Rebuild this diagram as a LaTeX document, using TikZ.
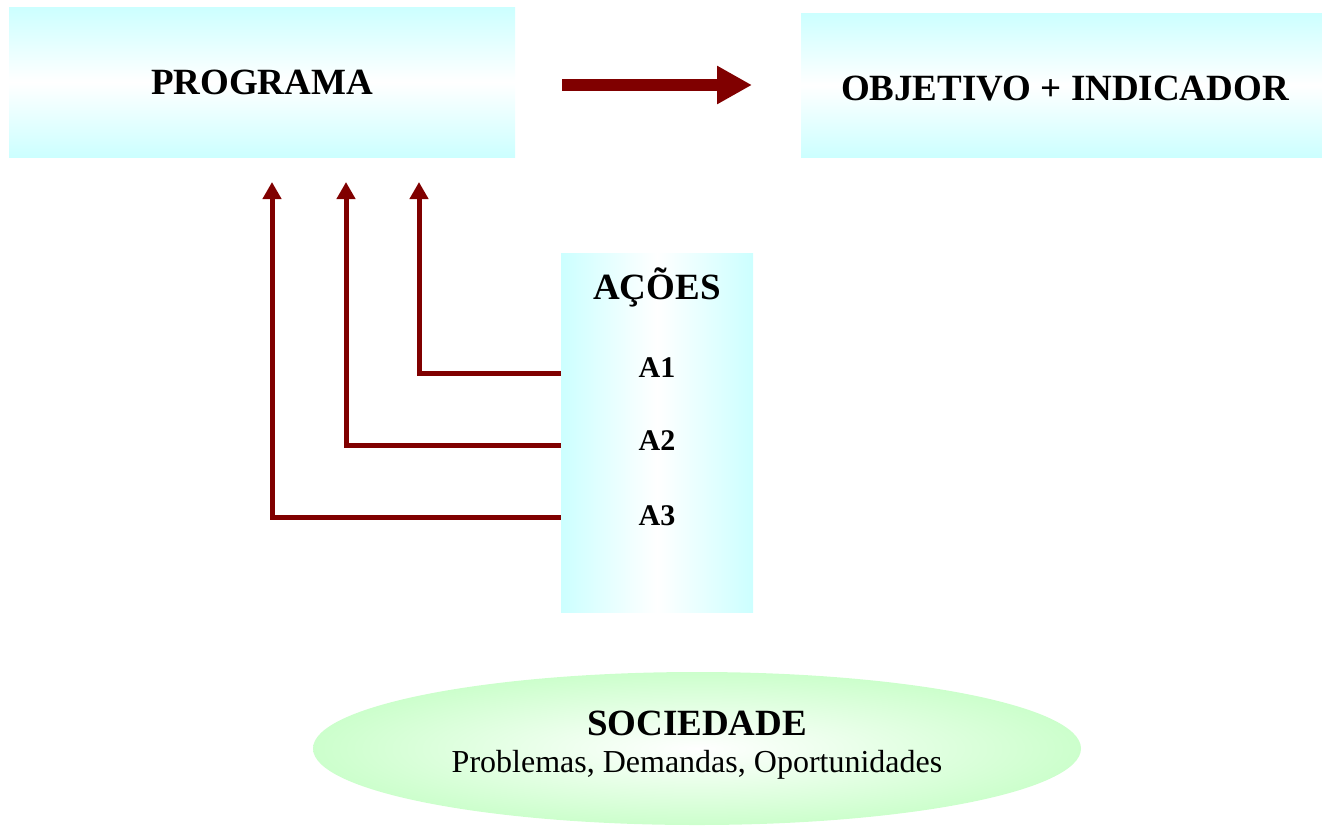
\documentclass[tikz,border=0pt]{standalone}
\usepackage{fontspec}
\setmainfont{Liberation Serif}
\usetikzlibrary{arrows.meta,shapes.geometric}
\definecolor{boxcyan}{RGB}{204,255,255}
\definecolor{socgreen}{RGB}{204,255,204}
\definecolor{darkred}{RGB}{128,0,0}
\tikzset{
  bigfont/.style={font=\bfseries\fontsize{18.5}{22}\selectfont},
  hbox/.style={inner sep=0pt, top color=boxcyan, bottom color=boxcyan, middle color=white, bigfont},
  link/.style={draw=darkred, line width=2.5pt, -{Triangle[length=8.5pt,width=9pt]}},
  bigarrow/.style={draw=darkred, line width=6pt, -{Triangle[length=17.5pt,width=18pt]}},
}
\begin{document}
\begin{tikzpicture}[x=0.5pt,y=-0.5pt]
\useasboundingbox (0,0) rectangle (1322,826);
% top row
\node[hbox, minimum width=253pt, minimum height=75pt] (programa) at (262,82) {PROGRAMA};
\node[hbox, minimum width=260.5pt, minimum height=72pt] (objetivo) at (1061.5,85) {};
\node[bigfont] (objtext) at (1065,89) {OBJETIVO + INDICADOR};
\coordinate (s) at (562,85);
\coordinate (e) at (752,85);
\draw[bigarrow] (s) -- (e);
% acoes
\node[inner sep=0pt, left color=boxcyan, right color=boxcyan, middle color=white,
      minimum width=96pt, minimum height=179.5pt] (acoes) at (657,432.5) {};
\node[bigfont] (acoestext) at (657,287) {AÇÕES};
\node[font=\bfseries\fontsize{15}{18}\selectfont] (a1) at (657,368) {A1};
\node[font=\bfseries\fontsize{15}{18}\selectfont] (a2) at (657,441) {A2};
\node[font=\bfseries\fontsize{15}{18}\selectfont] (a3) at (657,516) {A3};
\coordinate (t1) at (419,182);
\coordinate (t2) at (346,182);
\coordinate (t3) at (272,182);
\draw[link] (acoes.west |- 0,373) -| (t1);
\draw[link] (acoes.west |- 0,445) -| (t2);
\draw[link] (acoes.west |- 0,517) -| (t3);
% sociedade
\node[ellipse, inner sep=0pt, inner color=white, outer color=socgreen,
      minimum width=384pt, minimum height=76.5pt] (soc) at (697,748.5) {};
\node[bigfont] (soctitle) at (697,723) {SOCIEDADE};
\node[font=\fontsize{16}{19}\selectfont] (socsub) at (697,765) {Problemas, Demandas, Oportunidades};
\end{tikzpicture}
\end{document}
